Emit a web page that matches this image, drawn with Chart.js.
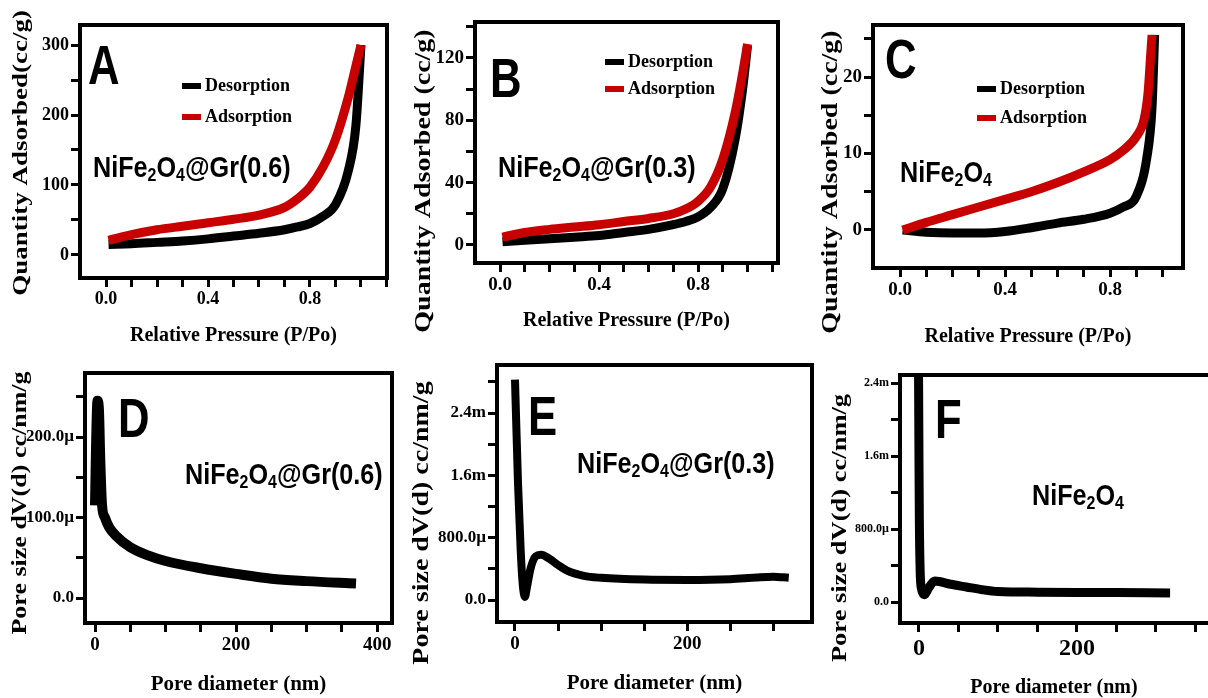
<!DOCTYPE html>
<html>
<head>
<meta charset="utf-8">
<script src="https://cdn.jsdelivr.net/npm/chart.js@4.4.1/dist/chart.umd.min.js"></script>
<style>
    html, body { margin: 0; padding: 0; background: #fff; overflow: hidden; }
    #wrap { position: relative; width: 1208px; height: 698px; }
    canvas { position: absolute; }
</style>
</head>
<body>
<div id="wrap">
    <canvas id="chartA"></canvas>
    <canvas id="chartB"></canvas>
    <canvas id="chartC"></canvas>
    <canvas id="chartD"></canvas>
    <canvas id="chartE"></canvas>
    <canvas id="chartF"></canvas>
</div>
<script>
// ---- Data ----
// Isotherms: relative pressure P/Po vs quantity adsorbed (cc/g)
const aPressure   = [0.01, 0.1, 0.2, 0.3, 0.4, 0.5, 0.6, 0.7, 0.75, 0.8, 0.85, 0.9, 0.95, 0.98, 1.0];
const aDesorption = [15, 16, 18, 20, 23, 27, 31, 36, 40, 45, 55, 72, 120, 185, 300];
const aAdsorption = [21, 29, 36, 41, 46, 51, 57, 68, 80, 97, 125, 165, 225, 270, 300];

const bPressure   = [0.01, 0.1, 0.2, 0.3, 0.4, 0.5, 0.6, 0.7, 0.75, 0.8, 0.85, 0.9, 0.95, 0.98, 1.0];
const bDesorption = [2, 3, 4, 5, 6, 8, 10, 13, 15, 18, 24, 36, 68, 100, 128];
const bAdsorption = [5, 8, 10, 11.5, 13, 15, 17, 20, 23, 28, 37, 55, 85, 110, 129];

const cPressureDes = [0.01, 0.1, 0.2, 0.3, 0.4, 0.5, 0.6, 0.7, 0.8, 0.85, 0.9, 0.94, 0.96, 0.97];
const cDesorption  = [0, -0.3, -0.4, -0.4, -0.2, 0.3, 0.9, 1.4, 2.2, 3, 4.4, 9.4, 16, 25.5];
const cPressureAds = [0.01, 0.1, 0.2, 0.3, 0.4, 0.5, 0.6, 0.7, 0.8, 0.85, 0.9, 0.93, 0.945, 0.955, 0.96];
const cAdsorption  = [0, 1, 2, 3, 4, 5, 6.2, 7.6, 9.2, 10.4, 12.2, 14.5, 18, 23, 25.5];

// Pore size distributions: diameter (nm) vs dV(d) in µcc/nm/g
const dDiameter = [0, 1.5, 3.5, 5.5, 7.5, 10, 14, 20, 30, 50, 75, 100, 150, 200, 250, 300, 370];
const dVolume   = [115, 190, 245, 235, 170, 115, 100, 88, 77, 63, 53, 46, 37, 30, 24, 21, 18];

const eDiameter = [0, 3.5, 6.6, 9, 11.5, 14, 18, 24, 30, 40, 50, 60, 80, 100, 150, 200, 250, 280, 300, 318];
const eVolume   = [2830, 1500, 640, 200, 40, 170, 400, 560, 580, 530, 450, 380, 310, 285, 262, 258, 268, 290, 300, 285];

const fDiameter = [-0.5, 0, 0.5, 1.5, 3, 7, 12, 20, 40, 60, 80, 100, 150, 200, 250, 318];
const fVolume   = [2480, 1600, 900, 350, 150, 80, 150, 230, 195, 165, 135, 115, 108, 105, 103, 100];

// Tick values (all tick marks) and the labelled ones
const pressureTicks = [0, 0.1, 0.2, 0.3, 0.4, 0.5, 0.6, 0.7, 0.8, 0.9, 1.0, 1.1];
const pressureLabels = [0, 0.4, 0.8];
const aYTicks = [0, 50, 100, 150, 200, 250, 300];
const aYLabels = [0, 100, 200, 300];
const bYTicks = [0, 20, 40, 60, 80, 100, 120, 140];
const bYLabels = [0, 40, 80, 120];
const cYTicks = [0, 5, 10, 15, 20, 25];
const cYLabels = [0, 10, 20];
const dXTicks = [0, 50, 100, 150, 200, 250, 300, 350, 400];
const dXLabels = [0, 200, 400];
const dYTicks = [0, 50, 100, 150, 200, 250];
const dYLabels = [0, 100, 200];
const eXTicks = [0, 50, 100, 150, 200, 250, 300];
const eYTicks = [0, 400, 800, 1200, 1600, 2000, 2400, 2800];
const fXTicks = [0, 50, 100, 150, 200, 250, 300, 350];
const efXLabels = [0, 200];
const efYTicks = [0, 400, 800, 1200, 1600, 2000, 2400];
const efYLabels = [0, 800, 1600, 2400];

const seriesNames = ['Desorption', 'Adsorption'];
const BLACK = '#000000';
const RED = '#c80000';

const SERIF = "'Liberation Serif', 'Times New Roman', serif";
const SANS = "'Liberation Sans', Arial, sans-serif";

const fmt1 = v => v.toFixed(1);
const fmtInt = v => String(v);
const fmtMicro = v => v === 0 ? '0.0' : (v >= 1000 ? (v / 1000).toFixed(1) + 'm' : v.toFixed(1) + '\u00b5');

// Frame around the plot area
const framePlugin = {
    id: 'frame',
    afterDatasetsDraw(chart, args, opts) {
        const a = chart.chartArea;
        const ctx = chart.ctx;
        const right = opts.openRight ? a.right + 8 : a.right;
        ctx.save();
        ctx.lineWidth = 4;
        ctx.strokeStyle = '#000';
        ctx.strokeRect(a.left, a.top, right - a.left, a.bottom - a.top);
        ctx.restore();
    }
};

// Y title, panel letter, sample name and legend (positions in page pixels)
const notesPlugin = {
    id: 'notes',
    afterDraw(chart, args, o) {
        const ctx = chart.ctx;
        const ox = o.offset.x, oy = o.offset.y;
        ctx.save();
        ctx.fillStyle = '#000';

        // rotated y axis title, squashed across like the scanned figure
        ctx.save();
        ctx.translate(o.yTitle.x - ox, o.yTitle.y - oy);
        ctx.rotate(-Math.PI / 2);
        ctx.scale(1, 0.8);
        ctx.font = 'bold ' + o.yTitle.size + 'px ' + SERIF;
        ctx.textAlign = 'center';
        ctx.textBaseline = 'middle';
        ctx.fillText(o.yTitle.text, 0, 0);
        ctx.restore();

        // big letter
        ctx.save();
        ctx.translate(o.letter.x - ox, o.letter.y - oy);
        ctx.scale(0.78, 1);
        ctx.font = 'bold 56px ' + SANS;
        ctx.fillText(o.letter.text, 0, 0);
        ctx.restore();

        // chemical formula with subscripts
        ctx.save();
        ctx.translate(o.formula.x - ox, o.formula.y - oy);
        ctx.scale(0.84, 1);
        let x = 0;
        o.formula.text.split(/_(\d)/).forEach((part, i) => {
            const sub = i % 2 === 1;
            ctx.font = sub ? 'bold 19px ' + SANS : 'bold 30px ' + SANS;
            ctx.fillText(part, x, sub ? 4 : 0);
            x += ctx.measureText(part).width;
        });
        ctx.restore();

        // legend
        if (o.legend) {
            const lg = o.legend;
            chart.data.datasets.slice().reverse().forEach((ds, i) => {
                const y = lg.rows[i] - oy;
                ctx.fillStyle = ds.borderColor;
                ctx.fillRect(lg.x - ox, y - 3, 19, 6);
                ctx.fillStyle = '#000';
                ctx.font = 'bold 18px ' + SERIF;
                ctx.textBaseline = 'middle';
                ctx.fillText(ds.label, lg.textX - ox, y);
            });
        }
        ctx.restore();
    }
};

function axisOptions(a, tickSize, forcedSize, isY, title) {
    const opts = {
        type: 'linear',
        min: a.min,
        max: a.max,
        afterBuildTicks: s => {
            s.ticks = a.ticks.filter(v => v >= a.min && v <= a.max).map(v => ({ value: v }));
        },
        ticks: {
            autoSkip: false,
            maxRotation: 0,
            padding: 2,
            color: '#000',
            font: { family: SERIF, weight: 'bold', size: tickSize },
            callback: v => a.labels.includes(v) ? a.fmt(v) : ''
        },
        grid: {
            drawOnChartArea: false,
            drawTicks: true,
            tickLength: 9,
            tickWidth: 3,
            tickColor: '#000'
        },
        border: { display: false },
        title: title ? {
            display: true,
            text: title.text,
            color: '#000',
            padding: 0,
            font: { family: SERIF, weight: 'bold', size: title.size }
        } : { display: false }
    };
    opts.afterFit = isY ? (s => { s.width = forcedSize; }) : (s => { s.height = forcedSize; });
    return opts;
}

function makePanel(p) {
    const xLine = p.xTitle.size * 1.2;
    const left = Math.round(p.yTitle.x - p.yTitle.size * 0.6);
    const top = p.frame.t - 14;
    const right = p.openRight ? p.frame.r : p.frame.r + 14;
    const bottom = Math.round(p.xTitle.y + xLine / 2);

    const canvas = document.getElementById(p.id);
    canvas.width = right - left;
    canvas.height = bottom - top;
    canvas.style.left = left + 'px';
    canvas.style.top = top + 'px';

    return new Chart(canvas, {
        type: 'line',
        data: {
            // adsorption first so it is painted on top
            datasets: p.series.slice().reverse().map(s => ({
                label: s.name,
                data: s.x.map((x, i) => ({ x: x, y: s.y[i] })),
                borderColor: s.color,
                borderWidth: p.lineWidth,
                pointRadius: 0,
                fill: false,
                cubicInterpolationMode: 'monotone',
                borderJoinStyle: 'round'
            }))
        },
        options: {
            responsive: false,
            animation: false,
            layout: { padding: { left: 0, top: p.frame.t - top, right: right - p.frame.r, bottom: 0 } },
            plugins: {
                legend: { display: false },
                tooltip: { enabled: false },
                frame: { openRight: !!p.openRight },
                notes: {
                    offset: { x: left, y: top },
                    yTitle: p.yTitle,
                    letter: p.letter,
                    formula: p.formula,
                    legend: p.legend
                }
            },
            scales: {
                x: axisOptions(p.x, p.xTickSize, bottom - p.frame.b, false, p.xTitle),
                y: axisOptions(p.y, p.yTickSize, p.frame.l - left, true, null)
            }
        },
        plugins: [framePlugin, notesPlugin]
    });
}

document.addEventListener('DOMContentLoaded', function() {
    makePanel({
        id: 'chartA',
        frame: { l: 80, t: 25, r: 387, b: 278 },
        x: { min: -0.102, max: 1.102, ticks: pressureTicks, labels: pressureLabels, fmt: fmt1 },
        y: { min: -32.9, max: 328.6, ticks: aYTicks, labels: aYLabels, fmt: fmtInt },
        series: [
            { name: seriesNames[0], x: aPressure, y: aDesorption, color: BLACK },
            { name: seriesNames[1], x: aPressure, y: aAdsorption, color: RED }
        ],
        lineWidth: 9,
        yTitle: { text: 'Quantity Adsorbed(cc/g)', x: 21, y: 153, size: 27 },
        xTitle: { text: 'Relative Pressure (P/Po)', y: 336, size: 20 },
        xTickSize: 18, yTickSize: 18,
        letter: { text: 'A', x: 88, y: 84 },
        formula: { text: 'NiFe_2O_4@Gr(0.6)', x: 93, y: 177 },
        legend: { x: 182, textX: 205, rows: [86, 117] }
    });

    makePanel({
        id: 'chartB',
        frame: { l: 475, t: 22, r: 778, b: 263 },
        x: { min: -0.101, max: 1.123, ticks: pressureTicks, labels: pressureLabels, fmt: fmt1 },
        y: { min: -11.6, max: 143.1, ticks: bYTicks, labels: bYLabels, fmt: fmtInt },
        series: [
            { name: seriesNames[0], x: bPressure, y: bDesorption, color: BLACK },
            { name: seriesNames[1], x: bPressure, y: bAdsorption, color: RED }
        ],
        lineWidth: 9,
        yTitle: { text: 'Quantity Adsorbed (cc/g)', x: 424, y: 181, size: 28 },
        xTitle: { text: 'Relative Pressure (P/Po)', y: 321, size: 20 },
        xTickSize: 19, yTickSize: 19,
        letter: { text: 'B', x: 490, y: 97 },
        formula: { text: 'NiFe_2O_4@Gr(0.3)', x: 498, y: 177 },
        legend: { x: 605, textX: 628, rows: [62, 89] }
    });

    makePanel({
        id: 'chartC',
        frame: { l: 873, t: 25, r: 1183, b: 268 },
        x: { min: -0.103, max: 1.078, ticks: pressureTicks, labels: pressureLabels, fmt: fmt1 },
        y: { min: -4.97, max: 26.8, ticks: cYTicks, labels: cYLabels, fmt: fmtInt },
        series: [
            { name: seriesNames[0], x: cPressureDes, y: cDesorption, color: BLACK },
            { name: seriesNames[1], x: cPressureAds, y: cAdsorption, color: RED }
        ],
        lineWidth: 9,
        yTitle: { text: 'Quantity Adsorbed (cc/g)', x: 831, y: 182, size: 28 },
        xTitle: { text: 'Relative Pressure (P/Po)', y: 337, size: 20 },
        xTickSize: 19, yTickSize: 19,
        letter: { text: 'C', x: 885, y: 78 },
        formula: { text: 'NiFe_2O_4', x: 900, y: 182 },
        legend: { x: 977, textX: 1000, rows: [89, 118] }
    });

    makePanel({
        id: 'chartD',
        frame: { l: 85, t: 373, r: 392, b: 623 },
        x: { min: -14.2, max: 421, ticks: dXTicks, labels: dXLabels, fmt: fmtInt },
        y: { min: -31, max: 279.5, ticks: dYTicks, labels: dYLabels, fmt: fmtMicro },
        series: [{ name: 'D', x: dDiameter, y: dVolume, color: BLACK }],
        lineWidth: 10,
        yTitle: { text: 'Pore size dV(d) cc/nm/g', x: 21, y: 503, size: 26 },
        xTitle: { text: 'Pore diameter (nm)', y: 684, size: 21 },
        xTickSize: 19, yTickSize: 17,
        letter: { text: 'D', x: 118, y: 437 },
        formula: { text: 'NiFe_2O_4@Gr(0.6)', x: 185, y: 484 }
    });

    makePanel({
        id: 'chartE',
        frame: { l: 497, t: 365, r: 812, b: 622 },
        x: { min: -20.9, max: 345, ticks: eXTicks, labels: efXLabels, fmt: fmtInt },
        y: { min: -282, max: 3017, ticks: eYTicks, labels: efYLabels, fmt: fmtMicro },
        series: [{ name: 'E', x: eDiameter, y: eVolume, color: BLACK }],
        lineWidth: 8,
        yTitle: { text: 'Pore size dV(d) cc/nm/g', x: 422, y: 523, size: 28 },
        xTitle: { text: 'Pore diameter (nm)', y: 683, size: 21 },
        xTickSize: 19, yTickSize: 17,
        letter: { text: 'E', x: 528, y: 435 },
        formula: { text: 'NiFe_2O_4@Gr(0.3)', x: 577, y: 473 }
    });

    makePanel({
        id: 'chartF',
        frame: { l: 900, t: 375, r: 1208, b: 623 },
        openRight: true,
        x: { min: -24, max: 366, ticks: fXTicks, labels: efXLabels, fmt: fmtInt },
        y: { min: -230, max: 2488, ticks: efYTicks, labels: efYLabels, fmt: fmtMicro },
        series: [{ name: 'F', x: fDiameter, y: fVolume, color: BLACK }],
        lineWidth: 9,
        yTitle: { text: 'Pore size dV(d) cc/nm/g', x: 841, y: 528, size: 26.5 },
        xTitle: { text: 'Pore diameter (nm)', y: 688, size: 20 },
        xTickSize: 24, yTickSize: 12,
        letter: { text: 'F', x: 935, y: 438 },
        formula: { text: 'NiFe_2O_4', x: 1032, y: 505 }
    });
});
</script>
</body>
</html>
